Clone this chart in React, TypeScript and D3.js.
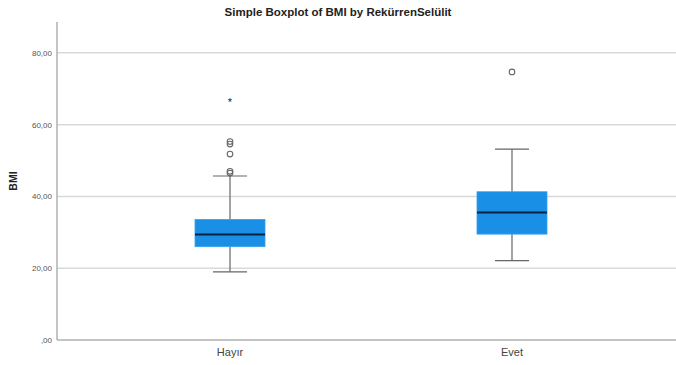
import React from "react";
import * as d3 from "d3";

const categories = ["Hayır", "Evet"];
const q1 = [26.0, 29.5];
const median = [29.4, 35.5];
const q3 = [33.6, 41.3];
const whiskerLow = [19.0, 22.1];
const whiskerHigh = [45.7, 53.2];
const outliersHayir = [46.5, 47.0, 51.8, 54.6, 55.3];
const outliersEvet = [74.7];
const extremesHayir = [66.6];
const yTicks = [0, 20, 40, 60, 80];
const tickLabels = [",00", "20,00", "40,00", "60,00", "80,00"];

const W = 676, H = 365;
const left = 57, right = 685, top = 22, bottom = 340;

export default function App() {
  const y = d3.scaleLinear().domain([0, 88.6]).range([bottom, top]);
  const x = d3.scalePoint<string>().domain(categories).range([left, right]).padding(0.6135);
  const boxW = 70;
  const capW = 34;
  const outliers = [outliersHayir, outliersEvet];
  const extremes = [extremesHayir, []];
  return (
    <svg width={W} height={H} style={{ position: "absolute", left: 0, top: 0, background: "#fff" }} fontFamily="Liberation Sans, Arial, sans-serif">
      <rect x={0} y={0} width={W} height={H} fill="#fff" />
      <text x={338} y={16} textAnchor="middle" fontSize={11.5} fontWeight="bold" fill="#222">Simple Boxplot of BMI by RekürrenSelülit</text>
      {yTicks.filter(t => t > 0).map(t => (
        <line key={t} x1={left} x2={W} y1={y(t)} y2={y(t)} stroke="#d9d9d9" strokeWidth={1.5} />
      ))}
      {yTicks.map((t, i) => (
        <text key={t} x={52} y={y(t) + 3} textAnchor="end" fontSize={8} fill="#555">{tickLabels[i]}</text>
      ))}
      <line x1={left} x2={left} y1={top} y2={bottom} stroke="#b0b0b0" strokeWidth={1.5} />
      <line x1={left} x2={W} y1={bottom} y2={bottom} stroke="#b0b0b0" strokeWidth={1.5} />
      <text transform={`translate(17,${(top + bottom) / 2}) rotate(-90)`} textAnchor="middle" fontSize={10.5} fontWeight="bold" fill="#222">BMI</text>
      {categories.map((c, i) => {
        const cx = x(c)!;
        return (
          <g key={c}>
            <line x1={cx} x2={cx} y1={y(whiskerLow[i])} y2={y(q1[i])} stroke="#666" strokeWidth={1.2} />
            <line x1={cx} x2={cx} y1={y(q3[i])} y2={y(whiskerHigh[i])} stroke="#666" strokeWidth={1.2} />
            <line x1={cx - capW / 2} x2={cx + capW / 2} y1={y(whiskerLow[i])} y2={y(whiskerLow[i])} stroke="#666" strokeWidth={1.2} />
            <line x1={cx - capW / 2} x2={cx + capW / 2} y1={y(whiskerHigh[i])} y2={y(whiskerHigh[i])} stroke="#666" strokeWidth={1.2} />
            <rect x={cx - boxW / 2} y={y(q3[i])} width={boxW} height={y(q1[i]) - y(q3[i])} fill="#1a8fe6" stroke="#3aa0ea" strokeWidth={0.8} />
            <line x1={cx - boxW / 2} x2={cx + boxW / 2} y1={y(median[i])} y2={y(median[i])} stroke="#0a2240" strokeWidth={2} />
            {outliers[i].map((v, j) => (
              <circle key={j} cx={cx} cy={y(v)} r={2.8} fill="none" stroke="#666" strokeWidth={1.1} />
            ))}
            {extremes[i].map((v, j) => (
              <text key={j} x={cx} y={y(v) + 5} textAnchor="middle" fontSize={11} fill="#222">*</text>
            ))}
            <text x={cx} y={356} textAnchor="middle" fontSize={11} fill="#444">{c}</text>
          </g>
        );
      })}
    </svg>
  );
}
